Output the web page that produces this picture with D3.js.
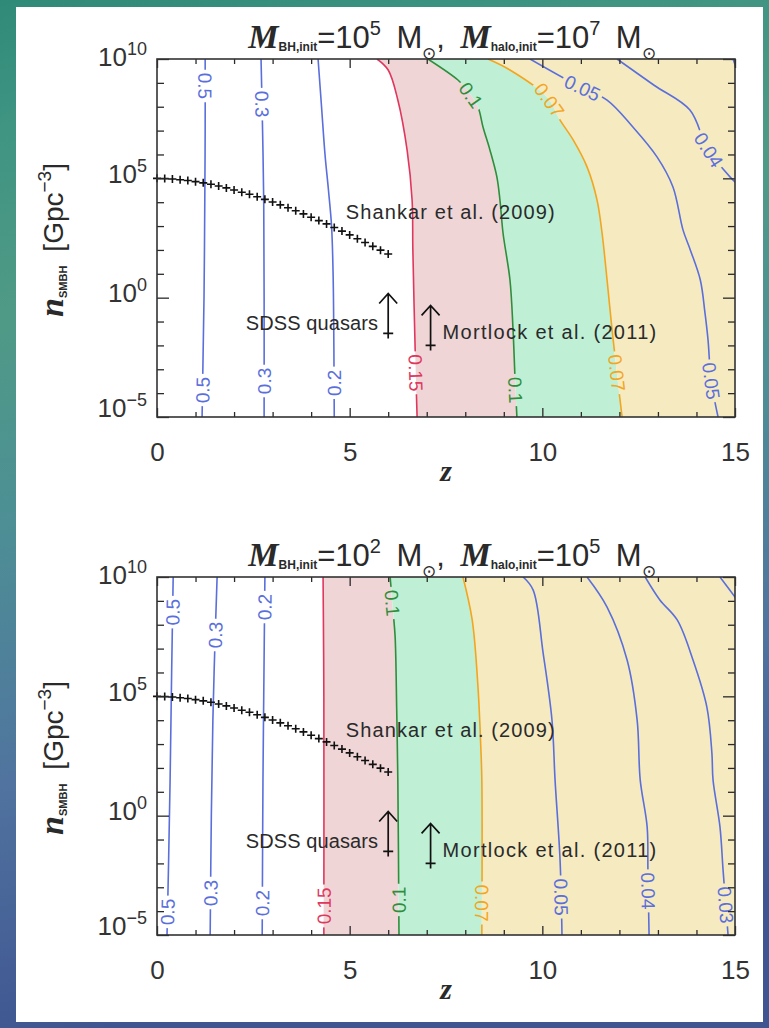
<!DOCTYPE html>
<html>
<head>
<meta charset="utf-8">
<script src="https://d3js.org/d3.v7.min.js"></script>
<style>
  html, body { margin: 0; padding: 0; }
  body { width: 769px; height: 1028px; overflow: hidden; }
  svg { display: block; }
</style>
</head>
<body>
<svg id="fig" width="769" height="1028"></svg>
<script>
// ---------------- data ----------------
const zTicksMajor = [0, 5, 10, 15];
const zTicksMinor = [1, 2, 3, 4, 6, 7, 8, 9, 11, 12, 13, 14];
const logNTicksMajor = [10, 5, 0, -5];
const logNTicksMinor = [9, 8, 7, 6, 4, 3, 2, 1, -1, -2, -3, -4];

// Shankar et al. (2009): redshift and log10 number density [Gpc^-3]
const shankarZ = [0.0, 0.2, 0.4, 0.6, 0.8, 1.0, 1.2, 1.4, 1.6, 1.8, 2.0, 2.2, 2.4, 2.6, 2.8, 3.0,
                  3.2, 3.4, 3.6, 3.8, 4.0, 4.2, 4.4, 4.6, 4.8, 5.0, 5.2, 5.4, 5.6, 5.8, 6.0];
const shankarLogN = [5.00, 4.99, 4.97, 4.94, 4.91, 4.86, 4.81, 4.75, 4.68, 4.60, 4.51, 4.42, 4.33, 4.23,
                     4.12, 4.01, 3.89, 3.77, 3.64, 3.51, 3.37, 3.23, 3.09, 2.94, 2.79, 2.63, 2.47, 2.31,
                     2.15, 1.99, 1.83];

// lower limits: [z, log10 n]
const sdssLimit = [6.0, -1.5];
const mortlockLimit = [7.1, -2.0];

// contour levels and their [z, log10 n] paths
// panel 1: M_BH,init = 1e5, M_halo,init = 1e7
const upper050 = [[1.25, 10], [1.25, 7], [1.24, 4], [1.22, 0], [1.19, -3], [1.17, -5]];
const upper030 = [[2.70, 10], [2.74, 7], [2.77, 4], [2.78, 0], [2.78, -5]];
const upper020 = [[4.18, 10], [4.27, 8], [4.36, 6], [4.45, 4.5], [4.53, 3], [4.57, 1], [4.59, -2], [4.60, -5]];
const upper015 = [[5.71, 10], [6.00, 9.54], [6.25, 8.28], [6.49, 6.19], [6.62, 4.09], [6.64, 2.0], [6.70, -2.2], [6.75, -5]];
const upper010 = [[7.03, 10], [7.81, 9.12], [8.05, 8.70], [8.33, 7.99], [8.46, 7.15], [8.64, 6.19], [8.82, 5.06],
                  [8.90, 4.09], [8.98, 2.71], [9.16, 0.74], [9.24, -1.35], [9.29, -3.32], [9.34, -5]];
const upper007 = [[8.59, 10], [9.16, 9.54], [10.12, 8.41], [10.46, 7.44], [10.80, 6.61], [11.16, 5.48], [11.42, 4.09],
                  [11.55, 2.71], [11.68, 0.74], [11.81, -1.35], [11.94, -3.24], [12.07, -5]];
const upper005 = [[9.68, 10], [10.9, 8.9], [11.68, 8.28], [12.35, 7.15], [12.98, 5.89], [13.39, 4.64], [13.65, 2.84],
                  [13.84, 2.0], [14.10, 0.74], [14.22, -0.63], [14.30, -1.77], [14.38, -3.45], [14.56, -5]];
const upper004 = [[11.94, 10], [12.9, 8.9], [13.83, 7.86], [14.27, 6.31], [14.87, 5.06], [15.1, 4.7]];
const upper003 = [[14.95, 10], [15.1, 9.3]];

// panel 2: M_BH,init = 1e2, M_halo,init = 1e5
const lower050 = [[0.42, 10], [0.38, 6], [0.34, 1.5], [0.30, -2], [0.26, -5]];
const lower030 = [[1.56, 10], [1.50, 7], [1.45, 4], [1.41, 0], [1.38, -5]];
const lower020 = [[2.80, 10], [2.77, 5], [2.75, 1.5], [2.73, -5]];
const lower015 = [[4.31, 10], [4.33, 5], [4.33, -5]];
const lower010 = [[6.05, 10], [6.13, 8.5], [6.18, 7.49], [6.22, 4.5], [6.25, 1.5], [6.28, -5]];
const lower007 = [[7.94, 10], [8.18, 8.2], [8.33, 5.39], [8.40, 3], [8.43, 1.5], [8.43, -5]];
const lower005 = [[9.50, 10], [9.76, 9.46], [10.02, 6.82], [10.25, 4.01], [10.33, 1.5], [10.46, -1.86], [10.51, -5]];
const lower004 = [[11.16, 10], [11.68, 8.74], [12.20, 6.52], [12.46, 4.01], [12.54, 1.5], [12.72, -0.47], [12.74, -2.27], [12.77, -5]];
const lower003 = [[12.67, 10], [13.05, 9.04], [13.50, 8.2], [13.91, 6.52], [14.27, 4.55], [14.40, 2.63], [14.43, 1.5],
                  [14.61, -0.47], [14.69, -2.27], [14.82, -5]];
const lower002 = [[14.61, 10], [15.0, 9.16], [15.3, 8.5]];

// contour labels: [level text, contour index, log10 n at label centre, reading direction (1 down the line, -1 up)]
const upperLabels = [
  ["0.5", 0, 8.87, 1], ["0.5", 0, -3.87, -1],
  ["0.3", 1, 8.11, 1], ["0.3", 1, -3.49, -1],
  ["0.2", 2, -3.57, -1],
  ["0.15", 3, -3.15, 1],
  ["0.1", 4, 8.49, 1], ["0.1", 4, -3.87, 1],
  ["0.07", 5, 8.28, 1], ["0.07", 5, -3.15, 1],
  ["0.05", 6, 8.79, 1], ["0.05", 6, -3.49, 1],
  ["0.04", 7, 6.19, 1]
];
const lowerLabels = [
  ["0.5", 0, 8.53, -1], ["0.5", 0, -4.03, -1],
  ["0.3", 1, 7.57, -1], ["0.3", 1, -3.24, -1],
  ["0.2", 2, 8.74, -1], ["0.2", 2, -3.66, -1],
  ["0.15", 3, -3.78, -1],
  ["0.1", 4, 8.91, 1], ["0.1", 4, -3.53, -1],
  ["0.07", 5, -3.66, 1],
  ["0.05", 6, -3.41, 1],
  ["0.04", 7, -3.15, 1],
  ["0.03", 8, -3.74, 1]
];

// ---------------- styling ----------------
const BLUE = "#5a6fdc", RED = "#e0375e", GREEN = "#2f8d3c", ORANGE = "#f3a51f";
const PINK_FILL = "#efd5d6", MINT_FILL = "#bff0d5", SAND_FILL = "#f6eac1";
const INK = "#2a2a2a";
const SANS = "'Liberation Sans', Arial, Helvetica, sans-serif";
const SERIF = "'Liberation Serif', 'Times New Roman', serif";

const panels = [
  { id: "upper", top: 59, bh: "5", halo: "7",
    contours: [upper050, upper030, upper020, upper015, upper010, upper007, upper005, upper004, upper003],
    colors: [BLUE, BLUE, BLUE, RED, GREEN, ORANGE, BLUE, BLUE, BLUE],
    labels: upperLabels },
  { id: "lower", top: 577, bh: "2", halo: "5",
    contours: [lower050, lower030, lower020, lower015, lower010, lower007, lower005, lower004, lower003, lower002],
    colors: [BLUE, BLUE, BLUE, RED, GREEN, ORANGE, BLUE, BLUE, BLUE, BLUE],
    labels: lowerLabels }
];
const LEFT = 157, RIGHT = 735, PLOT_H = 358;

// ---------------- canvas ----------------
const svg = d3.select("#fig");
const defs = svg.append("defs");

const bgGrad = defs.append("linearGradient").attr("id", "bgGrad")
  .attr("x1", 0).attr("y1", 0).attr("x2", 0.15).attr("y2", 1);
[[0, "#2f8a77"], [0.12, "#3f9482"], [0.3, "#4f9a86"], [0.5, "#4d8f95"], [0.75, "#50739f"], [1, "#3f5591"]]
  .forEach(([o, c]) => bgGrad.append("stop").attr("offset", o).attr("stop-color", c));
svg.append("rect").attr("width", 769).attr("height", 1028).attr("fill", "url(#bgGrad)");
svg.append("rect").attr("x", 16).attr("y", 7).attr("width", 747).attr("height", 1015).attr("fill", "#ffffff");

const curve = d3.curveCatmullRom.alpha(0.5);

panels.forEach(p => {
  const x = d3.scaleLinear().domain([0, 15]).range([LEFT, RIGHT]);
  const y = d3.scaleLinear().domain([-5, 10]).range([p.top + PLOT_H, p.top]);
  const line = d3.line().x(d => x(d[0])).y(d => y(d[1])).curve(curve);

  const g = svg.append("g").attr("class", "panel-" + p.id);

  defs.append("clipPath").attr("id", "clip-" + p.id)
    .append("rect").attr("x", LEFT).attr("y", p.top).attr("width", RIGHT - LEFT).attr("height", PLOT_H);

  // ---- filled bands between the 0.15 / 0.1 / 0.07 contours and the right edge
  const band = (a, b) => {
    const da = line(a);
    const db = line(b.slice().reverse()).replace(/^M/, "L");
    return da + db + "Z";
  };
  const rightEdge = [[16, 10.5], [16, -5.5]];
  const fills = g.append("g").attr("clip-path", `url(#clip-${p.id})`);
  fills.append("path").attr("d", band(p.contours[3], p.contours[4])).attr("fill", PINK_FILL);
  fills.append("path").attr("d", band(p.contours[4], p.contours[5])).attr("fill", MINT_FILL);
  fills.append("path").attr("d", band(p.contours[5], rightEdge)).attr("fill", SAND_FILL);

  // ---- contour lines (with gaps for labels via a mask)
  const mask = defs.append("mask").attr("id", "mask-" + p.id).attr("maskUnits", "userSpaceOnUse")
    .attr("x", 0).attr("y", 0).attr("width", 769).attr("height", 1028);
  mask.append("rect").attr("width", 769).attr("height", 1028).attr("fill", "#fff");

  const linesG = g.append("g").attr("clip-path", `url(#clip-${p.id})`)
    .append("g").attr("mask", `url(#mask-${p.id})`);
  const paths = p.contours.map((c, i) =>
    linesG.append("path").attr("d", line(c)).attr("fill", "none")
      .attr("stroke", p.colors[i]).attr("stroke-width", 1.6).attr("stroke-linejoin", "round").node());

  // ---- contour labels, placed along the rendered path
  const labG = g.append("g");
  p.labels.forEach(([txt, ci, logN, dir]) => {
    const node = paths[ci];
    const total = node.getTotalLength();
    const ty = y(logN);
    let lo = 0, hi = total;
    for (let k = 0; k < 40; k++) {
      const mid = (lo + hi) / 2;
      if (node.getPointAtLength(mid).y < ty) lo = mid; else hi = mid;
    }
    const L = (lo + hi) / 2;
    const pt = node.getPointAtLength(L);
    const a = node.getPointAtLength(Math.max(0, L - 6));
    const b = node.getPointAtLength(Math.min(total, L + 6));
    let ang = Math.atan2(b.y - a.y, b.x - a.x) * 180 / Math.PI;
    if (dir < 0) ang -= 180;
    const t = labG.append("text")
      .attr("transform", `translate(${pt.x},${pt.y}) rotate(${ang})`)
      .attr("text-anchor", "middle").attr("dy", "0.36em")
      .attr("font-family", SANS).attr("font-size", 19)
      .attr("fill", p.colors[ci]).text(txt);
    const w = t.node().getComputedTextLength() + 6;
    mask.append("rect")
      .attr("transform", `translate(${pt.x},${pt.y}) rotate(${ang})`)
      .attr("x", -w / 2).attr("y", -8).attr("width", w).attr("height", 16).attr("fill", "#000");
  });

  // ---- Shankar et al. (2009) points
  const plus = "M-4,0H4M0,-4V4";
  g.append("g").selectAll("path").data(shankarZ.map((z, i) => [z, shankarLogN[i]])).join("path")
    .attr("transform", d => `translate(${x(d[0])},${y(d[1])})`)
    .attr("d", plus).attr("stroke", "#111").attr("stroke-width", 1.6).attr("fill", "none");

  // ---- lower limits (SDSS quasars, Mortlock et al. 2011)
  const arrowLen = 40;
  [sdssLimit, mortlockLimit].forEach(d => {
    const px = x(d[0]), py = y(d[1]);
    g.append("path")
      .attr("d", `M${px - 5},${py}H${px + 5}M${px},${py + 5}V${py - arrowLen}` +
                 `M${px - 9},${py - arrowLen + 10}L${px},${py - arrowLen}L${px + 9},${py - arrowLen + 10}`)
      .attr("stroke", "#111").attr("stroke-width", 1.7).attr("fill", "none");
  });

  const annot = (t, ax, ay, anchor, spacing) => g.append("text").attr("x", ax).attr("y", ay)
    .attr("text-anchor", anchor).attr("font-family", SANS).attr("font-size", 20)
    .attr("letter-spacing", spacing).attr("fill", INK).text(t);
  annot("SDSS quasars", x(sdssLimit[0]) - 10, y(sdssLimit[1]) - 3, "end", 0.1);
  annot("Mortlock et al. (2011)", x(mortlockLimit[0]) + 12, y(mortlockLimit[1]) - 6, "start", 1.3);
  annot("Shankar et al. (2009)", x(4.9), y(3.3), "start", 1.1);

  // ---- axes
  const ax = g.append("g").attr("font-family", SANS);
  const tidy = s => s.call(a => a.select(".domain").remove())
    .call(a => a.selectAll(".tick line").attr("stroke", INK).attr("stroke-width", 1.3));

  ax.append("g").attr("transform", `translate(0,${p.top + PLOT_H})`)
    .call(d3.axisBottom(x).tickValues(zTicksMajor).tickSizeInner(-9).tickSizeOuter(0).tickPadding(26)
      .tickFormat(d3.format("d")))
    .call(tidy)
    .call(a => a.selectAll(".tick text").attr("font-size", 26).attr("fill", "#333").attr("font-family", SANS));
  ax.append("g").attr("transform", `translate(0,${p.top + PLOT_H})`)
    .call(d3.axisBottom(x).tickValues(zTicksMinor).tickSizeInner(-5).tickSizeOuter(0).tickFormat(""))
    .call(tidy);
  ax.append("g").attr("transform", `translate(0,${p.top})`)
    .call(d3.axisTop(x).tickValues(zTicksMajor).tickSizeInner(-9).tickSizeOuter(0).tickFormat(""))
    .call(tidy);
  ax.append("g").attr("transform", `translate(0,${p.top})`)
    .call(d3.axisTop(x).tickValues(zTicksMinor).tickSizeInner(-5).tickSizeOuter(0).tickFormat(""))
    .call(tidy);

  ax.append("g").attr("transform", `translate(${LEFT},0)`)
    .call(d3.axisLeft(y).tickValues(logNTicksMajor).tickSizeInner(-12).tickSizeOuter(0).tickPadding(10)
      .tickFormat(""))
    .call(tidy)
    .call(a => a.selectAll(".tick text").each(function (d) {
      const t = d3.select(this).attr("fill", "#333").attr("font-family", SANS)
        .attr("dy", d === 10 ? "0.62em" : d === -5 ? "-0.05em" : "0.42em");
      t.append("tspan").attr("font-size", 26).text("10");
      t.append("tspan").attr("font-size", 18).attr("dy", "-0.62em").text(d < 0 ? "\u2212" + (-d) : String(d));
    }));
  ax.append("g").attr("transform", `translate(${LEFT},0)`)
    .call(d3.axisLeft(y).tickValues(logNTicksMinor).tickSizeInner(-7).tickSizeOuter(0).tickFormat(""))
    .call(tidy);
  ax.append("g").attr("transform", `translate(${RIGHT},0)`)
    .call(d3.axisRight(y).tickValues(logNTicksMajor).tickSizeInner(-12).tickSizeOuter(0).tickFormat(""))
    .call(tidy);
  ax.append("g").attr("transform", `translate(${RIGHT},0)`)
    .call(d3.axisRight(y).tickValues(logNTicksMinor).tickSizeInner(-7).tickSizeOuter(0).tickFormat(""))
    .call(tidy);

  g.append("rect").attr("x", LEFT).attr("y", p.top).attr("width", RIGHT - LEFT).attr("height", PLOT_H)
    .attr("fill", "none").attr("stroke", "#333").attr("stroke-width", 1.6);

  // ---- axis titles
  g.append("text").attr("x", (LEFT + RIGHT) / 2).attr("y", p.top + PLOT_H + 64)
    .attr("text-anchor", "middle").attr("font-family", SERIF).attr("font-style", "italic")
    .attr("font-weight", "bold").attr("font-size", 30).attr("fill", INK).text("z");

  const yl = g.append("text").attr("transform", `translate(63,${p.top + PLOT_H / 2 + 2}) rotate(-90)`)
    .attr("text-anchor", "middle").attr("fill", INK).attr("font-family", SANS);
  yl.append("tspan").attr("font-family", SERIF).attr("font-style", "italic").attr("font-weight", "bold")
    .attr("font-size", 34).text("n");
  yl.append("tspan").attr("font-size", 11).attr("font-weight", "bold").attr("dy", 4).text("SMBH");
  yl.append("tspan").attr("font-size", 28).attr("dy", -4).text("\u2002[Gpc");
  yl.append("tspan").attr("font-size", 19).attr("dy", -12).text("\u22123");
  yl.append("tspan").attr("font-size", 28).attr("dy", 12).text("]");

  // ---- panel title
  const tt = g.append("text").attr("x", 452).attr("y", p.top - 11)
    .attr("text-anchor", "middle").attr("fill", INK).attr("font-family", SANS);
  const mItal = s => tt.append("tspan").attr("font-family", SERIF).attr("font-style", "italic")
    .attr("font-weight", "bold").attr("font-size", 34).text(s);
  const piece = (s, size, dy, bold) => tt.append("tspan").attr("font-size", size).attr("dy", dy)
    .attr("font-weight", bold ? "bold" : null).text(s);
  mItal("M");
  piece("BH,init", 12, 3, true);
  piece("=10", 31, -3);
  piece(p.bh, 20, -13);
  piece("\u2002M", 31, 13);
  piece("\u2299", 17, 11);
  piece(",\u2002", 31, -11);
  mItal("M");
  piece("halo,init", 12, 3, true);
  piece("=10", 31, -3);
  piece(p.halo, 20, -13);
  piece("\u2002M", 31, 13);
  piece("\u2299", 17, 11);
});
</script>
</body>
</html>
